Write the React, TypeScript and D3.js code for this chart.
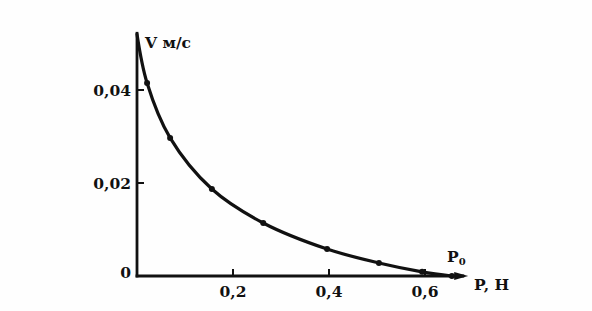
import React from "react";
import * as d3 from "d3";

const pValues = [0, 0.021, 0.069, 0.156, 0.263, 0.396, 0.504, 0.594, 0.656];
const vValues = [0.052, 0.0415, 0.0297, 0.0187, 0.0114, 0.0058, 0.0028, 0.0009, 0];
const xTicks = [0.2, 0.4, 0.6];
const xTickLabels = ["0,2", "0,4", "0,6"];
const yTicks = [0.02, 0.04];
const yTickLabels = ["0,02", "0,04"];

export default function App() {
  const W = 592, H = 311;
  const x = d3.scaleLinear().domain([0, 0.6]).range([137, 425]);
  const y = d3.scaleLinear().domain([0, 0.04]).range([276, 90]);
  const pts = pValues.map((p, i) => [x(p), y(vValues[i])] as [number, number]);
  const line = d3.line().curve(d3.curveCatmullRom.alpha(0.5))(pts) || "";
  const font = "'DejaVu Serif', 'Liberation Serif', serif";
  const fs = 15.5;
  const xEnd = x(0.69);
  const yTop = y(0.0525);
  return (
    <svg width={W} height={H} style={{ position: "absolute", left: 0, top: 0, background: "#fefefe" }}>
      <rect x={0} y={0} width={W} height={H} fill="#fefefe" />
      <g stroke="#111" strokeWidth={2.8} fill="none">
        <line x1={x(0)} y1={yTop} x2={x(0)} y2={y(0) + 1.4} />
        <line x1={x(0) - 1.4} y1={y(0)} x2={xEnd - 4} y2={y(0)} />
      </g>
      <path d={`M${xEnd},${y(0)} L${xEnd - 14},${y(0) - 4} L${xEnd - 14},${y(0) + 4} Z`} fill="#111" />
      {xTicks.map((t, i) => (
        <g key={"x" + i}>
          <line x1={x(t)} x2={x(t)} y1={y(0)} y2={y(0) - 7} stroke="#111" strokeWidth={2} />
          <text x={x(t)} y={y(0) + 21} textAnchor="middle" fontFamily={font} fontWeight="bold" fontSize={fs} fill="#111">
            {xTickLabels[i]}
          </text>
        </g>
      ))}
      {yTicks.map((t, i) => (
        <g key={"y" + i}>
          <line x1={x(0)} x2={x(0) + 7} y1={y(t)} y2={y(t)} stroke="#111" strokeWidth={2} />
          <text x={x(0) - 6} y={y(t) + 6} textAnchor="end" fontFamily={font} fontWeight="bold" fontSize={fs} fill="#111">
            {yTickLabels[i]}
          </text>
        </g>
      ))}
      <text x={x(0) - 6} y={y(0) + 2} textAnchor="end" fontFamily={font} fontWeight="bold" fontSize={fs} fill="#111">0</text>
      <path d={line} fill="none" stroke="#111" strokeWidth={3.2} strokeLinecap="round" />
      {pts.slice(1).map((d, i) => (
        <circle key={i} cx={d[0]} cy={d[1]} r={3} fill="#111" />
      ))}
      <text x={x(0) + 8} y={48} fontFamily={font} fontWeight="bold" fontSize={fs} fill="#111">V м/с</text>
      <text x={447} y={262} fontFamily={font} fontWeight="bold" fontSize={fs} fill="#111">
        P<tspan fontSize={10} dy={3}>0</tspan>
      </text>
      <text x={474} y={290} fontFamily={font} fontWeight="bold" fontSize={fs} fill="#111">P, H</text>
    </svg>
  );
}
